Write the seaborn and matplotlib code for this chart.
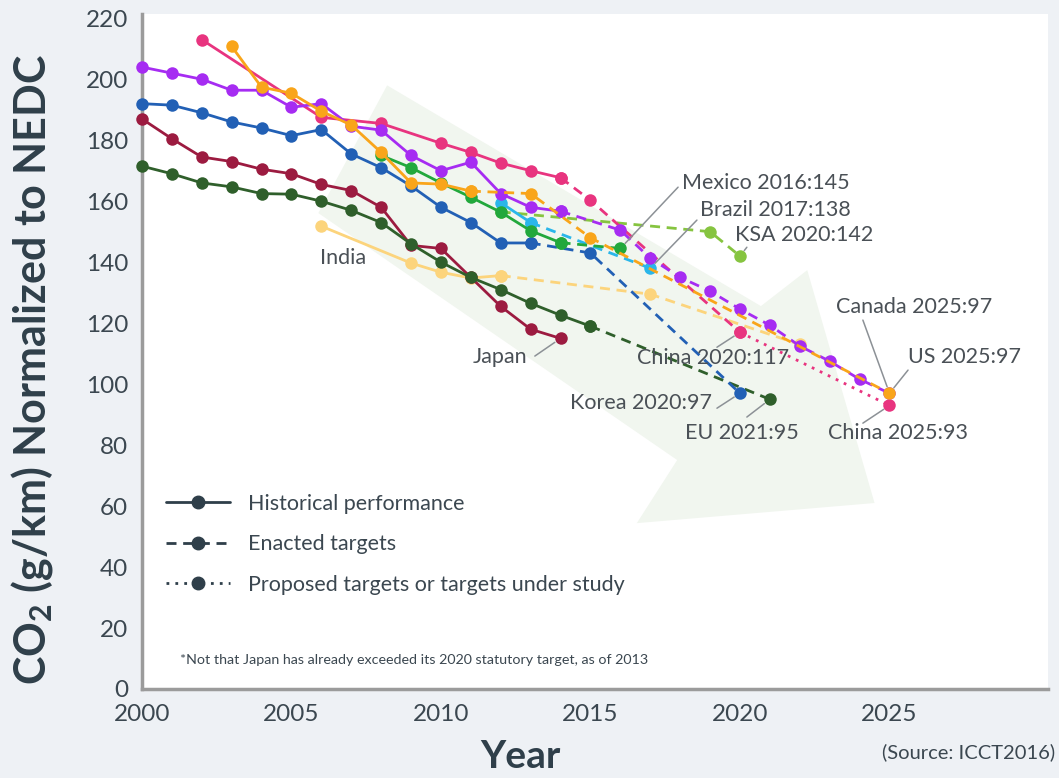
import matplotlib
matplotlib.use('Agg')
import matplotlib.pyplot as plt
import seaborn as sns
from matplotlib.lines import Line2D
from matplotlib.patches import Polygon

# ---- data (g/km, NEDC) ----
japan_years = list(range(2000, 2015))
japan_hist = [187, 180.5, 174.5, 173, 170.5, 169, 165.5, 163.5, 158, 145.5, 144.5, 135, 125.5, 118, 115]

eu_years = list(range(2000, 2016))
eu_hist = [171.5, 169, 166, 164.7, 162.5, 162.3, 160, 157, 153, 146, 140, 135, 131, 126.5, 122.6, 119]
eu_target_years = [2015, 2021]
eu_target = [119, 95]

korea_years = list(range(2000, 2014))
korea_hist = [192, 191.5, 189, 186, 184, 181.5, 183.5, 175.5, 171, 165, 158, 153, 146.3, 146.3]
korea_target_years = [2013, 2015, 2020]
korea_target = [146.3, 143, 97]

us_years = list(range(2000, 2015))
us_hist = [204, 202, 200, 196.4, 196.4, 190.8, 192, 184.6, 183.3, 175, 170, 172.8, 162.5, 158, 156.7]
us_target_years = [2014, 2016, 2017, 2018, 2019, 2020, 2021, 2022, 2023, 2024, 2025]
us_target = [156.7, 150.5, 141.3, 135, 130.5, 124.6, 119.3, 112.5, 107.5, 101.6, 97]

canada_years = list(range(2003, 2012))
canada_hist = [210.8, 197.4, 195.4, 189.5, 185, 176, 166, 165.6, 163.3]
canada_target_years = [2011, 2013, 2015, 2025]
canada_target = [163.3, 162.5, 148, 97]

china_years = [2002, 2006, 2008, 2010, 2011, 2012, 2013, 2014]
china_hist = [213, 187.5, 185.5, 179, 176, 172.5, 170, 167.7]
china_target_years = [2014, 2015, 2020]
china_target = [167.7, 160.3, 117]
china_prop_years = [2020, 2025]
china_prop = [117, 93]

mexico_years = list(range(2008, 2015))
mexico_hist = [175, 171, 166, 161.3, 156.4, 150.3, 146.4]
mexico_target_years = [2014, 2016]
mexico_target = [146.4, 144.5]

brazil_years = [2012, 2013]
brazil_hist = [159.5, 153]
brazil_target_years = [2013, 2017]
brazil_target = [153, 138]

ksa_target_years = [2012, 2019, 2020]
ksa_target = [156.5, 150, 142]

india_years = [2006, 2009, 2010, 2011, 2012]
india_hist = [151.8, 139.7, 136.7, 134.8, 135.6]
india_target_years = [2012, 2017, 2022]
india_target = [135.6, 129.5, 113]

legend_labels = ['Historical performance', 'Enacted targets', 'Proposed targets or targets under study']

# ---- style ----
sns.set_theme(style='white')
plt.rcParams['font.family'] = ['Lato', 'DejaVu Sans']
plt.rcParams['mathtext.fontset'] = 'custom'
plt.rcParams['mathtext.rm'] = 'Lato:bold'
plt.rcParams['mathtext.bf'] = 'Lato:bold'

c_pink = '#e8347f'
c_orange = '#f9a51a'
c_purple = '#a62cf2'
c_blue = '#2260b5'
c_green = '#22a83c'
c_cyan = '#2ab6ea'
c_lime = '#86c440'
c_red = '#9c1b40'
c_dgreen = '#2f5f2b'
c_india = '#fcd47c'
text_c = '#4a5056'
dark_c = '#2f3f4a'

SOLID = '-'
DASH = (0, (3.6, 2.4))
DOT = (0, (1, 2.2))

fig = plt.figure(figsize=(10.59, 7.78), dpi=100, facecolor='#eef1f5')
ax = fig.add_axes([0.134, 0.1144, 0.8556, 0.8676])
ax.set_facecolor('white')

# background arrow
arrow_x = [2008.2, 2020.7, 2022.25, 2024.5, 2016.55, 2017.9, 2005.9]
arrow_y = [198, 125.6, 137.4, 61, 54.4, 75.1, 156.1]
ax.add_patch(Polygon(list(zip(arrow_x, arrow_y)), closed=True,
                     facecolor='#f1f6ef', edgecolor='none', zorder=0.5))


def seg(x, y, color, ls, z):
    sns.lineplot(x=x, y=y, color=color, linestyle=ls, lw=2, marker='o',
                 markersize=9, markeredgewidth=0, estimator=None, sort=False,
                 ax=ax, zorder=z)


seg(india_target_years, india_target, c_india, DASH, 2)
seg(india_years, india_hist, c_india, SOLID, 2)
seg(ksa_target_years, ksa_target, c_lime, DASH, 2)
seg(japan_years, japan_hist, c_red, SOLID, 3)
seg(eu_target_years, eu_target, c_dgreen, DASH, 3)
seg(eu_years, eu_hist, c_dgreen, SOLID, 3)
seg(korea_target_years, korea_target, c_blue, DASH, 4)
seg(korea_years, korea_hist, c_blue, SOLID, 4)
seg(brazil_target_years, brazil_target, c_cyan, DASH, 5)
seg(brazil_years, brazil_hist, c_cyan, SOLID, 5)
seg(mexico_target_years, mexico_target, c_green, DASH, 5)
seg(mexico_years, mexico_hist, c_green, SOLID, 5)
seg(china_prop_years, china_prop, c_pink, DOT, 6)
seg(china_target_years, china_target, c_pink, DASH, 6)
seg(china_years, china_hist, c_pink, SOLID, 6)
seg(us_target_years, us_target, c_purple, DASH, 7)
seg(us_years, us_hist, c_purple, SOLID, 7)
seg(canada_target_years, canada_target, c_orange, DASH, 8)
seg(canada_years, canada_hist, c_orange, SOLID, 8)

for ln in ax.lines:
    ln.set_clip_on(False)

# labels with leader lines: text, point, leader start, text position, ha
notes = [
    ('Mexico 2016:145', (2016, 144.5), (2017.93, 164.6), (2018.06, 165.9), 'left'),
    ('Brazil 2017:138', (2017, 138), (2018.56, 153.8), (2018.66, 157.0), 'left'),
    ('KSA 2020:142', (2020, 142), (2020.23, 144.9), (2019.83, 148.9), 'left'),
    ('Japan', (2014, 115), (2013.14, 109.2), (2012.9, 108.9), 'right'),
    ('China 2020:117', (2020, 117), (2019.23, 112.1), (2016.55, 108.5), 'left'),
    ('Korea 2020:97', (2020, 97), (2019.23, 92.1), (2019.05, 93.8), 'right'),
    ('EU 2021:95', (2021, 95), (2020.23, 89.2), (2018.15, 83.9), 'left'),
    ('Canada 2025:97', (2025, 97), (2024.11, 121.0), (2023.2, 125.2), 'left'),
    ('US 2025:97', (2025, 97), (2025.62, 104.6), (2025.62, 108.9), 'left'),
    ('China 2025:93', (2025, 93), (2024.11, 87.2), (2022.93, 83.9), 'left'),
]
for txt, pt, start, tpos, ha in notes:
    ax.annotate('', xy=pt, xytext=start,
                arrowprops=dict(arrowstyle='-', color='#8c9196', lw=1.1,
                                shrinkA=0, shrinkB=5), zorder=9)
    ax.text(tpos[0], tpos[1], txt, ha=ha, va='center', fontsize=15.5,
            color=text_c, zorder=10)
ax.text(2005.95, 141.3, 'India', ha='left', va='center', fontsize=15.5,
        color=text_c, zorder=10)

# axes
ax.set_xlim(2000, 2030.3)
ax.set_ylim(0, 221.4)
ax.set_xticks(range(2000, 2026, 5))
ax.set_yticks(range(0, 221, 20))
ax.tick_params(axis='both', direction='in', length=7, width=1.5,
               color='#a0a0a0', labelsize=17.5, labelcolor='#3b4750')
ax.tick_params(axis='y', pad=10)
ax.tick_params(axis='x', pad=11)
for side in ['top', 'right']:
    ax.spines[side].set_visible(False)
for side in ['left', 'bottom']:
    ax.spines[side].set_color('#9b9b9b')
    ax.spines[side].set_linewidth(2.5)
ax.grid(False)

# legend
handles = [Line2D([], [], color=dark_c, lw=2, ls=ls, marker='o', markersize=9)
           for ls in [SOLID, DASH, DOT]]
ax.legend(handles, legend_labels, loc='upper left', bbox_to_anchor=(0.005, 0.318),
          frameon=False, fontsize=15.5, handlelength=3.0, labelspacing=0.95,
          handletextpad=0.8, labelcolor='#3b4750')

ax.text(0.042, 0.043, '*Not that Japan has already exceeded its 2020 statutory target, as of 2013',
        transform=ax.transAxes, fontsize=10.3, color='#3b4750', va='center')

fig.text(32 / 1059, 1 - 370 / 778, 'CO$_2$ (g/km) Normalized to NEDC', rotation=90,
         ha='center', va='center', fontsize=31, fontweight='bold', color=dark_c)
fig.text(520 / 1059, 1 - 757 / 778, 'Year', ha='center', va='center',
         fontsize=28, fontweight='bold', color=dark_c)
fig.text(1055 / 1059, 1 - 752 / 778, '(Source: ICCT2016)', ha='right', va='center',
         fontsize=14.5, color='#3b4750')

fig.savefig('out.png', dpi=100, facecolor=fig.get_facecolor())
